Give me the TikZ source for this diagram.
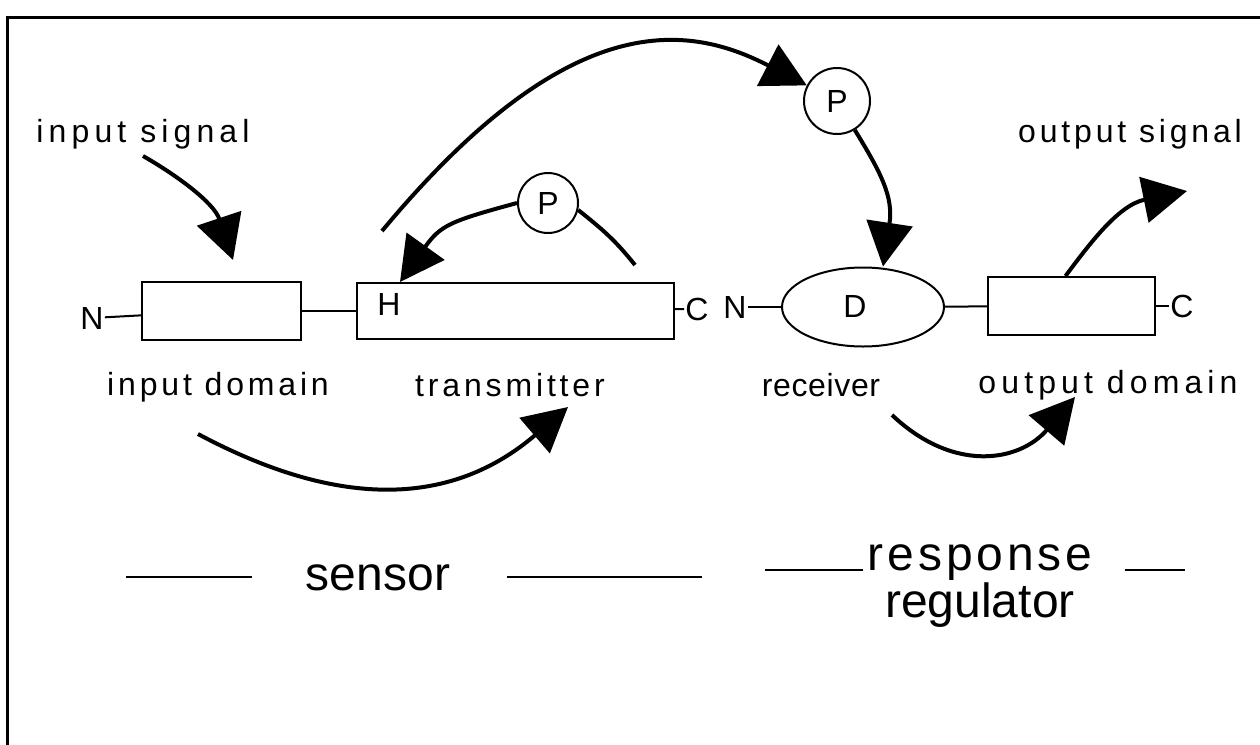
\documentclass[tikz,border=0pt]{standalone}
\usepackage{fontspec}
\setmainfont{Liberation Sans}
\newfontfamily\lblfont[LetterSpace=12]{Liberation Sans}
\newfontfamily\lblwidefont[LetterSpace=16]{Liberation Sans}
\newfontfamily\lbltightfont[LetterSpace=2]{Liberation Sans}
\newfontfamily\bigspacedfont[LetterSpace=8]{Liberation Sans}
\usetikzlibrary{arrows.meta, shapes.geometric}

\begin{document}
\begin{tikzpicture}[
    x=0.5pt, y=-0.5pt,
    dombox/.style={rectangle, draw, line width=1pt, inner sep=0pt},
    phos/.style={circle, draw, line width=1pt, inner sep=0pt, font=\fontsize{16}{19}\selectfont},
    term/.style={inner sep=0.5pt, font=\fontsize{16}{19}\selectfont},
    link/.style={line width=1pt},
    flowline/.style={line width=2pt},
    flow/.style={flowline, -{Triangle[length=22pt,width=23pt]}},
    lbl/.style={font=\lblfont\fontsize{16}{19}\selectfont},
    big/.style={font=\fontsize{24}{28}\selectfont, inner sep=0pt, anchor=base}
  ]
  \useasboundingbox (0,0) rectangle (1260,745);
  % frame
  \draw[line width=1.5pt] (7,745) -- (7,17) -- (1260,17);

  % signals
  \node[lbl, font=\lblwidefont\fontsize{16}{19}\selectfont] (insig) at (143,134) {input signal};
  \node[lbl] (outsig) at (1130,134) {output signal};

  % sensor protein
  \node[term] (n1) at (92,318) {N};
  \node[dombox, minimum width=79.5pt, minimum height=29pt] (inbox) at (221.5,311) {};
  \node[dombox, minimum width=158.5pt, minimum height=28pt] (txbox) at (515.5,311) {};
  \node[term] (hres) at (389,304) {H};
  \node[term] (c1) at (697,309) {C};

  % response regulator
  \node[term] (n2) at (735,307) {N};
  \node[dombox, ellipse, minimum width=81pt, minimum height=39.5pt] (recv) at (863,307) {};
  \node[term] (dres) at (855,306) {D};
  \node[dombox, minimum width=83.5pt, minimum height=29pt] (outbox) at (1071.5,306) {};
  \node[term] (c2) at (1182,306) {C};

  % phosphoryl groups
  \node[phos, minimum size=30pt] (p2) at (548,203) {P};
  \node[phos, minimum size=33pt] (p1) at (837,101) {P};

  % domain labels
  \node[lbl] (indom) at (218,387) {input domain};
  \node[lbl] (trans) at (510,385) {transmitter};
  \node[lbl, font=\lbltightfont\fontsize{16}{19}\selectfont] (recvlbl) at (821,385) {receiver};
  \node[lbl, font=\lblwidefont\fontsize{16}{19}\selectfont] (outdom) at (1108,385) {output domain};

  \coordinate (sigin) at (233,260);
  \coordinate (hout) at (382,231);
  \coordinate (txout) at (635,265);
  \coordinate (sigout) at (1187,191);
  \coordinate (sensA) at (198,434);
  \coordinate (sensB) at (568,407);
  \coordinate (regA) at (892,415);
  \coordinate (regB) at (1075,397);

  \draw[link] (n1) -- (inbox);
  \draw[link] (inbox) -- (txbox);
  \draw[link] (txbox) -- (c1);
  \draw[link] (n2) -- (recv);
  \draw[link] (recv) -- (outbox);
  \draw[link] (outbox) -- (c2);

  \draw[flow] (insig.south) .. controls +(35,20) and +(-19,-57) .. (sigin);
  \draw[flow] (hout) .. controls +(185.6,-223.3) and +(-151.3,-78.2) .. (p1);
  \draw[flow] (p1) .. controls +(44.5,72.5) and +(10.5,-69.3) .. ([xshift=10pt]recv.north);
  \draw[flowline] (txout) .. controls +(-20,-25) and +(25,20) .. (p2.-13);
  \draw[flow] (p2.west) .. controls +(-67.2,18.2) and +(40.6,-56.7) .. ([xshift=22pt]txbox.north west);
  \draw[flow] (sensA) .. controls +(145.2,77.6) and +(-114,97.5) .. (sensB);
  \draw[flow] (regA) .. controls +(62,58.6) and +(-55.25,64.6) .. (regB);
  \draw[flow] ([xshift=-3pt]outbox.north) .. controls +(24,-32) and +(-68.6,14) .. (sigout);

  % protein names
  \node[big] (sensor) at (378,590) {sensor};
  \draw[link] ([shift={(-54,-13)}]sensor.base west) -- ++(-126,0);
  \draw[link] ([shift={(57,-13)}]sensor.base east) -- ++(195,0);
  \node[big, font=\bigspacedfont\fontsize{24}{28}\selectfont] (resp) at (980,570) {response};
  \node[big] (regul) at (980,617) {regulator};
  \draw[link] ([xshift=-2pt]resp.base west) -- ++(-98,0);
  \draw[link] ([xshift=16pt]resp.base east) -- ++(60,0);
\end{tikzpicture}
\end{document}
